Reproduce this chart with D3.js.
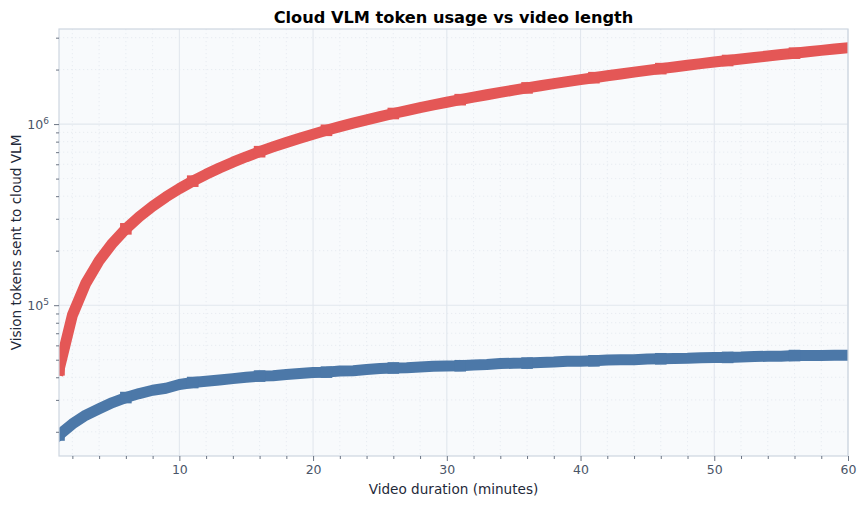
<!DOCTYPE html>
<html>
<head>
<meta charset="utf-8">
<script src="https://cdn.jsdelivr.net/npm/d3@7"></script>
<style>
  body { margin: 0; background: #fff; }
  text { font-family: "DejaVu Sans", sans-serif; }
</style>
</head>
<body>
<svg id="chart" width="865" height="505"></svg>
<script>
// video length in minutes
var minutes = d3.range(1, 61);

// full-frame upload: tokens sent to cloud VLM
var fullTokens = [
  44000, 88000, 132000, 176000, 220000, 264000, 308000, 352000, 396000, 440000,
  484000, 528000, 572000, 616000, 660000, 704000, 748000, 792000, 836000, 880000,
  924000, 968000, 1012000, 1056000, 1100000, 1144000, 1188000, 1232000, 1276000, 1320000,
  1364000, 1408000, 1452000, 1496000, 1540000, 1584000, 1628000, 1672000, 1716000, 1760000,
  1804000, 1848000, 1892000, 1936000, 1980000, 2024000, 2068000, 2112000, 2156000, 2200000,
  2244000, 2288000, 2332000, 2376000, 2420000, 2464000, 2508000, 2552000, 2596000, 2640000
];

// filtered upload: tokens sent to cloud VLM
var filteredTokens = [
  19200, 22100, 24700, 26800, 29000, 30900, 32500, 33900, 34800, 36500,
  37400, 38000, 38600, 39300, 40000, 40600, 40800, 41400, 42000, 42500,
  42700, 43300, 43500, 44100, 44700, 45000, 45200, 45600, 46000, 46200,
  46300, 46800, 47000, 47600, 47800, 47900, 48300, 48500, 49000, 49100,
  49300, 49800, 49900, 50000, 50500, 50600, 50700, 50900, 51300, 51400,
  51500, 51700, 52100, 52200, 52300, 52700, 52800, 52800, 52900, 53000
];

var xTicks = [10, 20, 30, 40, 50, 60];
var yTicks = [1e5, 1e6];
var yExp = { 100000: "5", 1000000: "6" };

var svg = d3.select("#chart");
var chart_width = +svg.attr("width");
var margin = { top: 29, right: 17, bottom: 49, left: 59 };
var w = chart_width - margin.left - margin.right;
var h = +svg.attr("height") - margin.top - margin.bottom;

var x = d3.scaleLinear().domain([1, 60]).range([0, w]);
var y = d3.scaleLog().domain([14700, 3350000]).range([h, 0]);

var g = svg.append("g")
  .attr("transform", "translate(" + margin.left + "," + margin.top + ")");

g.append("rect")
  .attr("width", w)
  .attr("height", h)
  .attr("fill", "#f8fafc");

// minor grid, dotted
var xMinor = d3.range(2, 61, 2).filter(function (d) { return d % 10 !== 0; });
var yMinor = y.ticks().filter(function (d) {
  var l = Math.log10(d);
  return Math.abs(l - Math.round(l)) > 1e-6;
});

g.append("g").selectAll("line")
  .data(xMinor)
  .enter().append("line")
  .attr("x1", x).attr("x2", x)
  .attr("y1", 0).attr("y2", h)
  .attr("stroke", "#e3e8ef")
  .attr("stroke-width", 0.8)
  .attr("stroke-dasharray", "1.2,2.8");

g.append("g").selectAll("line")
  .data(yMinor)
  .enter().append("line")
  .attr("x1", 0).attr("x2", w)
  .attr("y1", y).attr("y2", y)
  .attr("stroke", "#e3e8ef")
  .attr("stroke-width", 0.8)
  .attr("stroke-dasharray", "1.2,2.8");

// major grid
g.append("g").selectAll("line")
  .data(xTicks)
  .enter().append("line")
  .attr("x1", x).attr("x2", x)
  .attr("y1", 0).attr("y2", h)
  .attr("stroke", "#e2e7ee")
  .attr("stroke-width", 1.1);

g.append("g").selectAll("line")
  .data(yTicks)
  .enter().append("line")
  .attr("x1", 0).attr("x2", w)
  .attr("y1", y).attr("y2", y)
  .attr("stroke", "#e2e7ee")
  .attr("stroke-width", 1.1);

// series
g.append("clipPath").attr("id", "clip")
  .append("rect").attr("width", w).attr("height", h);

var plot = g.append("g").attr("clip-path", "url(#clip)");

var series = [
  { values: fullTokens, color: "#e45756" },
  { values: filteredTokens, color: "#4c78a8" }
];

var line = d3.line()
  .x(function (d) { return x(d[0]); })
  .y(function (d) { return y(d[1]); });

series.forEach(function (s) {
  var pts = minutes.map(function (m, i) { return [m, s.values[i]]; });
  plot.append("path")
    .attr("d", line(pts))
    .attr("fill", "none")
    .attr("stroke", s.color)
    .attr("stroke-width", 11)
    .attr("stroke-linejoin", "round")
    .attr("stroke-linecap", "square");

  // square markers every 5 points
  plot.selectAll(null)
    .data(pts.filter(function (d, i) { return i % 5 === 0; }))
    .enter().append("rect")
    .attr("x", function (d) { return x(d[0]) - 5.8; })
    .attr("y", function (d) { return y(d[1]) - 5.8; })
    .attr("width", 11.6)
    .attr("height", 11.6)
    .attr("fill", s.color);
});

// spines
g.append("rect")
  .attr("width", w)
  .attr("height", h)
  .attr("fill", "none")
  .attr("stroke", "#cdd6e0")
  .attr("stroke-width", 1.2);

// axes
var xAxis = g.append("g")
  .attr("transform", "translate(0," + h + ")")
  .call(d3.axisBottom(x).tickValues(xTicks).tickSize(5).tickPadding(4).tickFormat(d3.format("d")));

var xAxisMinor = g.append("g")
  .attr("transform", "translate(0," + h + ")")
  .call(d3.axisBottom(x).tickValues(xMinor).tickSize(3).tickFormat(""));

var yAxis = g.append("g")
  .call(d3.axisLeft(y).tickValues(yTicks).tickSize(5).tickPadding(5).tickFormat(""));

var yAxisMinor = g.append("g")
  .call(d3.axisLeft(y).tickValues(yMinor).tickSize(3).tickFormat(""));

[xAxis, xAxisMinor, yAxis, yAxisMinor].forEach(function (a) {
  a.select(".domain").remove();
  a.selectAll("line").attr("stroke", "#5b6576").attr("stroke-width", 0.9);
});

xAxis.selectAll("text")
  .attr("fill", "#4a5568")
  .attr("font-size", "12.5px")
  .attr("font-family", "DejaVu Sans");

// y tick labels as 10 with superscript
yAxis.selectAll(".tick").each(function (d) {
  var t = d3.select(this).append("text")
    .attr("x", -10)
    .attr("dy", "0.35em")
    .attr("text-anchor", "end")
    .attr("fill", "#4a5568")
    .attr("font-size", "12.5px");
  t.append("tspan").text("10");
  t.append("tspan")
    .attr("dy", "-0.55em")
    .attr("font-size", "9px")
    .text(yExp[d]);
});

// title and labels
svg.append("text")
  .attr("x", margin.left + w / 2)
  .attr("y", 23)
  .attr("text-anchor", "middle")
  .attr("font-size", "16.2px")
  .attr("font-weight", "bold")
  .attr("fill", "#000")
  .text("Cloud VLM token usage vs video length");

svg.append("text")
  .attr("x", margin.left + w / 2)
  .attr("y", 494)
  .attr("text-anchor", "middle")
  .attr("font-size", "13.6px")
  .attr("fill", "#1e2838")
  .text("Video duration (minutes)");

svg.append("text")
  .attr("transform", "translate(21," + (margin.top + h / 2) + ") rotate(-90)")
  .attr("text-anchor", "middle")
  .attr("font-size", "13.6px")
  .attr("fill", "#1e2838")
  .text("Vision tokens sent to cloud VLM");
</script>
</body>
</html>
